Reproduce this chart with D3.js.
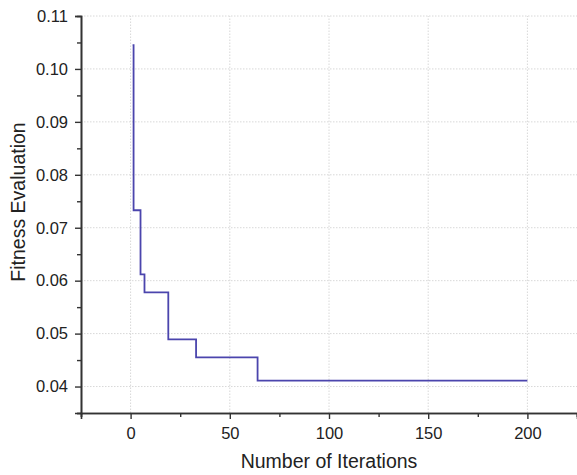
<!DOCTYPE html>
<html><head><meta charset="utf-8">
<script src="https://cdn.jsdelivr.net/npm/d3@7"></script>
<style>body{margin:0;background:#fff;} svg{display:block;}</style>
</head><body>
<svg id="c" width="577" height="475"></svg>
<script>
const iterations = [1, 1.5, 5, 7, 19, 33, 64, 200];
const fitness = [0.1045, 0.0733, 0.0612, 0.0578, 0.0489, 0.0455, 0.0411, 0.0411];
const xTicks = [0, 50, 100, 150, 200];
const yTicks = [0.04, 0.05, 0.06, 0.07, 0.08, 0.09, 0.10, 0.11];
const xLabel = "Number of Iterations";
const yLabel = "Fitness Evaluation";

const svg = d3.select("#c");
const m = {l: 81, r: 0, t: 16, b: 62};
const W = 577, H = 475;
const x = d3.scaleLinear().domain([-25, 225]).range([m.l, W - m.r]);
const y = d3.scaleLinear().domain([0.035, 0.11]).range([H - m.b, m.t]);
const font = "Liberation Sans, Arial, sans-serif";

// grid
const g = svg.append("g");
g.selectAll("line.gx").data(xTicks).join("line")
  .attr("x1", d => x(d)).attr("x2", d => x(d))
  .attr("y1", y(0.035)).attr("y2", y(0.11))
  .attr("stroke", "#d8d8d8").attr("stroke-dasharray", "1.5,1.5");
g.selectAll("line.gy").data(yTicks).join("line")
  .attr("x1", x(-25)).attr("x2", x(225))
  .attr("y1", d => y(d)).attr("y2", d => y(d))
  .attr("stroke", "#d8d8d8").attr("stroke-dasharray", "1.5,1.5");

// data line
const data = iterations.map((d, i) => [d, fitness[i]]);
svg.append("path").datum(data)
  .attr("fill", "none").attr("stroke", "#4b45ad").attr("stroke-width", 1.8)
  .attr("d", d3.line().x(d => x(d[0])).y(d => y(d[1])).curve(d3.curveStepAfter));

// axes
const xMinor = d3.range(-25, 226, 25).filter(v => !xTicks.includes(v));
const yMinor = d3.range(0.035, 0.1101, 0.01).map(v => +v.toFixed(3));

const xa = svg.append("g").attr("transform", `translate(0,${y(0.035)})`);
xa.call(d3.axisBottom(x).tickValues(xTicks).tickSize(6).tickPadding(8).tickFormat(d3.format("d")));
const xm = svg.append("g").attr("transform", `translate(0,${y(0.035)})`);
xm.call(d3.axisBottom(x).tickValues(xMinor).tickSize(4).tickFormat(""));

const ya = svg.append("g").attr("transform", `translate(${x(-25)},0)`);
ya.call(d3.axisLeft(y).tickValues(yTicks).tickSize(6).tickPadding(7).tickFormat(d3.format(".2f")));
const ym = svg.append("g").attr("transform", `translate(${x(-25)},0)`);
ym.call(d3.axisLeft(y).tickValues(yMinor).tickSize(4).tickFormat(""));

[xa, xm, ya, ym].forEach(a => {
  a.selectAll("path.domain").attr("stroke", "#333").attr("stroke-width", 1.6);
  a.selectAll(".tick line").attr("stroke", "#333").attr("stroke-width", 1.4);
  a.selectAll("text").attr("font-family", font).attr("font-size", 16.5).attr("fill", "#222");
});

svg.append("text").attr("x", x(100)).attr("y", 468)
  .attr("text-anchor", "middle").attr("font-family", font).attr("font-size", 19.5).attr("fill", "#222")
  .text(xLabel);
svg.append("text").attr("transform", `translate(25,202) rotate(-90)`)
  .attr("text-anchor", "middle").attr("font-family", font).attr("font-size", 19.5).attr("fill", "#222")
  .text(yLabel);
</script>
</body></html>
